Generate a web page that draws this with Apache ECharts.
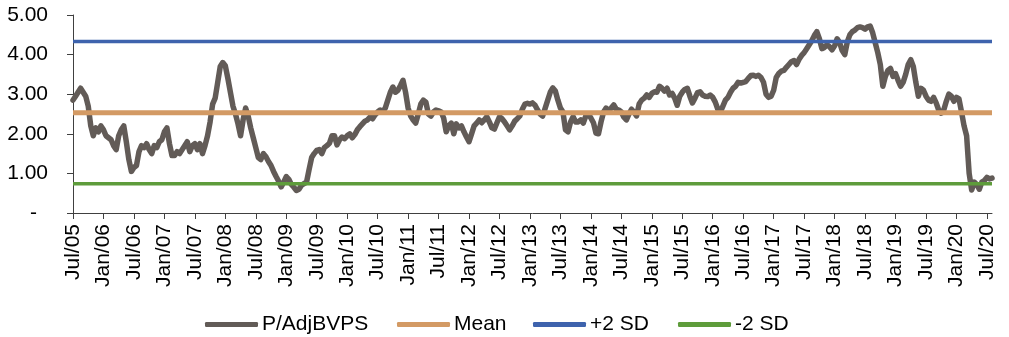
<!DOCTYPE html>
<html>
<head>
<meta charset="utf-8">
<script src="https://cdn.jsdelivr.net/npm/echarts@6/dist/echarts.min.js"></script>
<style>
html,body{margin:0;padding:0;background:#fff;}
#chart{width:1009px;height:337px;}
</style>
</head>
<body>
<div id="chart"></div>
<script>
// Tick labels (one every 6 months)
const tickLabels = ['Jul/05','Jan/06','Jul/06','Jan/07','Jul/07','Jan/08','Jul/08','Jan/09','Jul/09','Jan/10','Jul/10',
  'Jan/11','Jul/11','Jan/12','Jul/12','Jan/13','Jul/13','Jan/14','Jul/14','Jan/15','Jul/15','Jan/16','Jul/16',
  'Jan/17','Jul/17','Jan/18','Jul/18','Jan/19','Jul/19','Jan/20','Jul/20'];
const pointsPerTick = 12; // semi-monthly observations

// P/AdjBVPS, semi-monthly from Jul 2005 to Aug 2020
const pAdjBVPS = [
  2.85,2.95,3.05,3.15,3.05,2.95,2.7,2.2,1.95,2.15,2.05,2.2,
  2.1,1.95,1.9,1.85,1.7,1.6,1.95,2.1,2.2,1.8,1.35,1.05,
  1.15,1.2,1.55,1.7,1.65,1.75,1.6,1.5,1.7,1.65,1.8,1.85,
  2.05,2.15,1.75,1.45,1.45,1.55,1.5,1.6,1.7,1.8,1.55,1.7,
  1.75,1.6,1.75,1.5,1.7,1.95,2.3,2.75,2.9,3.3,3.7,3.8,
  3.72,3.4,3.05,2.7,2.5,2.25,1.95,2.35,2.65,2.45,2.15,1.9,
  1.65,1.4,1.35,1.5,1.42,1.3,1.2,1.05,0.92,0.8,0.66,0.78,
  0.92,0.85,0.72,0.65,0.57,0.6,0.7,0.74,0.78,1.1,1.4,1.5,
  1.58,1.6,1.5,1.65,1.7,1.76,1.95,1.95,1.72,1.85,1.92,1.88,
  1.95,2.0,1.9,1.98,2.1,2.18,2.25,2.32,2.35,2.42,2.38,2.48,
  2.55,2.6,2.55,2.65,2.85,3.05,3.18,3.05,3.1,3.22,3.35,3.05,
  2.65,2.45,2.35,2.27,2.5,2.75,2.85,2.8,2.5,2.45,2.55,2.6,
  2.58,2.55,2.4,2.05,2.2,2.27,2.0,2.25,2.15,2.2,2.05,1.92,
  1.8,2.0,2.2,2.27,2.35,2.28,2.35,2.43,2.3,2.15,2.12,2.28,
  2.43,2.38,2.3,2.2,2.1,2.2,2.32,2.38,2.45,2.62,2.75,2.77,
  2.75,2.78,2.72,2.6,2.5,2.45,2.65,2.85,3.05,3.16,3.08,2.85,
  2.65,2.55,2.1,2.05,2.3,2.43,2.3,2.3,2.35,2.27,2.45,2.5,
  2.4,2.28,2.02,2.0,2.3,2.55,2.65,2.58,2.65,2.73,2.62,2.6,
  2.55,2.42,2.35,2.5,2.62,2.55,2.45,2.75,2.85,2.9,2.98,2.92,
  3.02,3.06,3.05,3.2,3.15,3.08,3.15,2.98,3.02,2.9,2.72,2.95,
  3.05,3.12,3.15,2.95,2.78,2.9,3.04,3.06,2.98,2.95,2.94,2.98,
  2.92,2.8,2.62,2.55,2.7,2.85,2.92,3.05,3.15,3.2,3.3,3.28,
  3.3,3.32,3.4,3.47,3.48,3.45,3.48,3.42,3.3,3.0,2.92,2.95,
  3.1,3.42,3.52,3.58,3.6,3.68,3.75,3.82,3.85,3.75,3.88,3.98,
  4.05,4.15,4.25,4.35,4.48,4.58,4.4,4.15,4.18,4.25,4.2,4.12,
  4.22,4.4,4.3,4.1,4.0,4.32,4.5,4.58,4.62,4.68,4.7,4.68,
  4.64,4.7,4.72,4.55,4.3,4.05,3.75,3.2,3.45,3.6,3.65,3.45,
  3.52,3.35,3.2,3.3,3.5,3.75,3.87,3.7,3.3,2.95,3.15,3.1,
  2.95,2.85,2.82,2.92,2.78,2.6,2.52,2.6,2.82,3.0,2.95,2.82,
  2.92,2.88,2.55,2.2,1.95,1.0,0.58,0.78,0.72,0.6,0.78,0.82,
  0.9,0.86,0.88
];

// Reference levels
const meanValue = 2.53;
const plusTwoSD = 4.33;
const minusTwoSD = 0.74;

// Category keys (one per observation)
const categories = pAdjBVPS.map((_, i) => 'p' + i);

const FONT = 'Liberation Sans, Arial, sans-serif';
const chart = echarts.init(document.getElementById('chart'), null, {renderer: 'canvas'});

function legendAt(name, left) {
  return {
    data: [name], left: left, top: 314, orient: 'horizontal',
    icon: 'roundRect', itemWidth: 53, itemHeight: 5, itemGap: 0,
    padding: 0,
    textStyle: {fontFamily: FONT, fontSize: 21, color: '#000', padding: [0,0,0,-1]},
    selectedMode: false
  };
}

const onTick = function (idx) { return idx % pointsPerTick === 0; };

const option = {
  animation: false,
  backgroundColor: '#fff',
  grid: {left: 73, right: 17, top: 15, bottom: 124, containLabel: false},
  legend: [
    legendAt('P/AdjBVPS', 205),
    legendAt('Mean', 397),
    legendAt('+2 SD', 533),
    legendAt('-2 SD', 678)
  ],
  xAxis: {
    type: 'category',
    data: categories,
    boundaryGap: false,
    axisLine: {lineStyle: {color: '#404040', width: 1}},
    axisTick: {show: true, interval: onTick, length: 6, inside: false, lineStyle: {color: '#404040'}},
    axisLabel: {
      interval: onTick,
      rotate: 90,
      margin: 11,
      fontFamily: FONT, fontSize: 21, color: '#000',
      formatter: function (v, idx) {
        return idx % pointsPerTick === 0 ? tickLabels[idx / pointsPerTick] : '';
      }
    },
    splitLine: {show: false}
  },
  yAxis: {
    type: 'value',
    min: 0, max: 5, interval: 1,
    axisLine: {show: true, lineStyle: {color: '#404040', width: 1}},
    axisTick: {show: true, length: 6, lineStyle: {color: '#404040'}},
    splitLine: {show: false},
    axisLabel: {
      margin: 25,
      fontFamily: FONT, fontSize: 21, color: '#000',
      formatter: function (v) { return v === 0 ? '{d|-}' : v.toFixed(2); },
      rich: {d: {fontFamily: FONT, fontSize: 21, color: '#000', padding: [0, 11, 0, 0]}}
    }
  },
  series: [
    {
      name: 'P/AdjBVPS', type: 'line', data: pAdjBVPS,
      symbol: 'none', color: '#625b57',
      lineStyle: {width: 5.5, color: '#625b57', cap: 'round', join: 'round'},
      z: 2
    },
    {
      name: 'Mean', type: 'line', data: categories.map(() => meanValue),
      symbol: 'none', color: '#d39a64',
      lineStyle: {width: 5, color: '#d39a64'}, z: 3
    },
    {
      name: '+2 SD', type: 'line', data: categories.map(() => plusTwoSD),
      symbol: 'none', color: '#3e63ad',
      lineStyle: {width: 3.5, color: '#3e63ad'}, z: 3
    },
    {
      name: '-2 SD', type: 'line', data: categories.map(() => minusTwoSD),
      symbol: 'none', color: '#5e9c3b',
      lineStyle: {width: 3.5, color: '#5e9c3b'}, z: 3
    }
  ]
};
chart.setOption(option);
</script>
</body>
</html>
